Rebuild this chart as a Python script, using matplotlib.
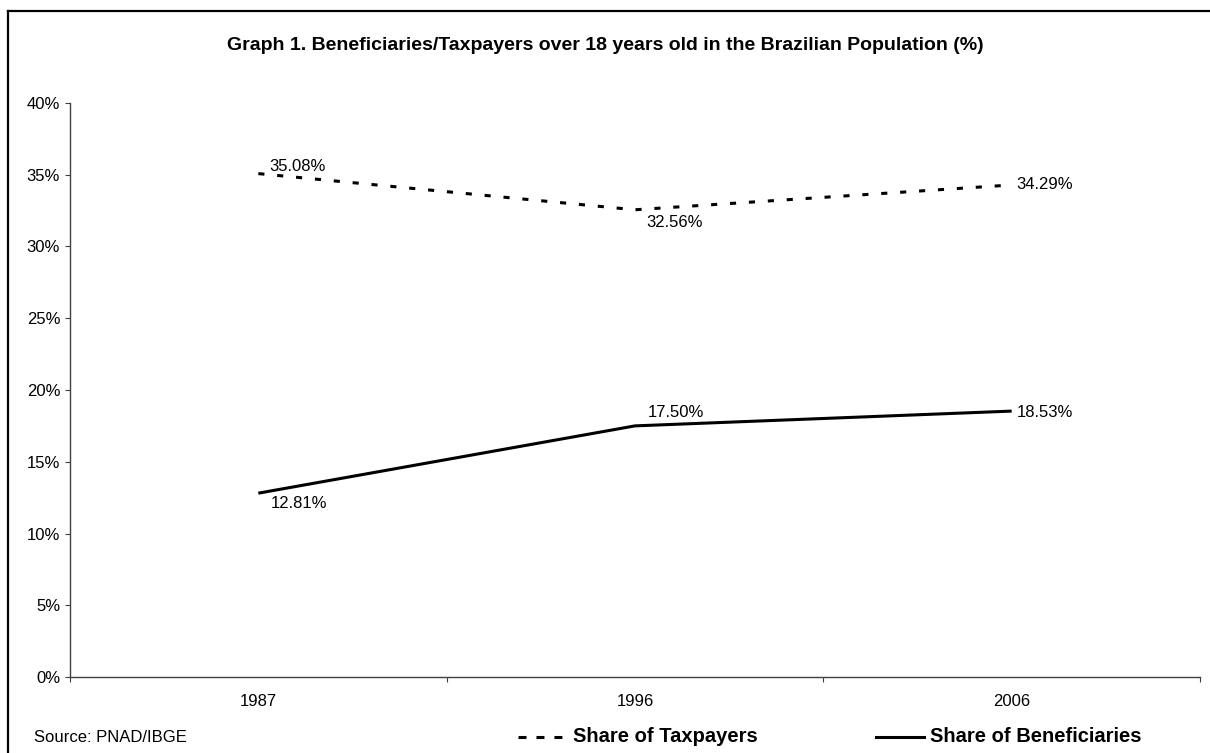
import matplotlib
matplotlib.use("Agg")
import matplotlib.pyplot as plt
from matplotlib.lines import Line2D

years = ["1987", "1996", "2006"]
taxpayers = [35.08, 32.56, 34.29]
beneficiaries = [12.81, 17.50, 18.53]
yticks = [0, 5, 10, 15, 20, 25, 30, 35, 40]
title = "Graph 1. Beneficiaries/Taxpayers over 18 years old in the Brazilian Population (%)"

plt.rcParams['font.family'] = ['Liberation Sans', 'DejaVu Sans']

W, H = 1210, 753
fig = plt.figure(figsize=(W / 100, H / 100), dpi=100)
ax = fig.add_axes([70 / W, 1 - 677 / H, (1200 - 70) / W, (677 - 103) / H])

x = list(range(len(years)))
LW = 2.2
ax.plot(x, taxpayers, color='black', lw=LW, linestyle=(0, (2.0, 4.2)),
        dash_capstyle='butt', solid_capstyle='butt')
ax.plot(x, beneficiaries, color='black', lw=LW, solid_capstyle='butt')

ax.set_xlim(-0.5, len(years) - 0.5)
ax.set_ylim(0, 40)
ax.set_yticks(yticks)
ax.set_yticklabels([f"{v}%" for v in yticks], fontsize=12)
ax.set_xticks([i - 0.5 for i in range(len(years) + 1)])
ax.set_xticklabels([])
ax.set_xticks(x, minor=True)
ax.set_xticklabels(years, minor=True, fontsize=12)
ax.tick_params(axis='x', which='minor', length=0, pad=12)
ax.tick_params(axis='x', which='major', direction='out', length=3.5, color='#404040')
ax.tick_params(axis='y', direction='out', length=3.6, color='#404040', pad=3.5)
for s in ['top', 'right']:
    ax.spines[s].set_visible(False)
for s in ['left', 'bottom']:
    ax.spines[s].set_color('#404040')
    ax.spines[s].set_linewidth(1.0)

# data labels (offsets in points)
tax_off = [(8, 2, 'baseline'), (8.5, -9.5, 'center'), (3.6, 0, 'center')]
ben_off = [(8.6, -11, 'baseline'), (9, 6.5, 'baseline'), (3.6, -1, 'center')]
for i, v in enumerate(taxpayers):
    dx, dy, va = tax_off[i]
    ax.annotate(f"{v:.2f}%", (x[i], v), xytext=(dx, dy), textcoords='offset points',
                ha='left', va=va, fontsize=12)
for i, v in enumerate(beneficiaries):
    dx, dy, va = ben_off[i]
    ax.annotate(f"{v:.2f}%", (x[i], v), xytext=(dx, dy), textcoords='offset points',
                ha='left', va=va, fontsize=12)

fig.text(605 / W, 1 - 45 / H, title, ha='center', va='center', fontsize=14, fontweight='bold')
fig.text(34 / W, 1 - 738 / H, "Source: PNAD/IBGE", ha='left', va='center', fontsize=12)

# legend entries
ly = 1 - 737 / H
fig.add_artist(Line2D([518 / W, 562 / W], [ly, ly], color='black', lw=LW,
                      linestyle=(0, (8 / 3.06, 10 / 3.06)), dash_capstyle='butt'))
fig.text(573 / W, ly, "Share of Taxpayers", ha='left', va='center',
         fontsize=14.5, fontweight='bold')
fig.add_artist(Line2D([876 / W, 924 / W], [ly, ly], color='black', lw=LW))
fig.text(930 / W, ly, "Share of Beneficiaries", ha='left', va='center',
         fontsize=14.5, fontweight='bold')

# outer border (top and left)
fig.add_artist(Line2D([8 / W, 1.0], [1 - 10.5 / H] * 2, color='black', lw=1.6))
fig.add_artist(Line2D([8 / W, 8 / W], [1 - 10.5 / H, 0], color='black', lw=1.6))

fig.savefig("out.png", dpi=100)
